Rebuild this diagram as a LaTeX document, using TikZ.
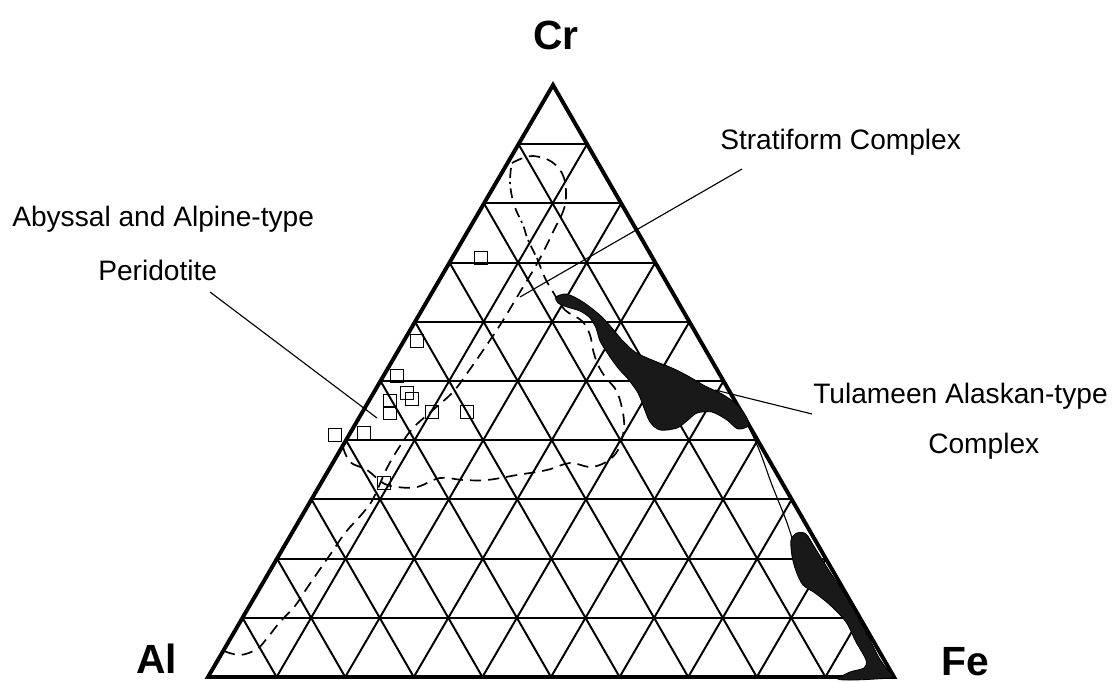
\documentclass[tikz,border=0pt]{standalone}
\usepackage{fontspec}
\setmainfont{Liberation Sans}
\usetikzlibrary{calc}

\tikzset{
  trioutline/.style={line width=2.8pt, line join=miter},
  gridline/.style={line width=1.4pt},
  fieldline/.style={line width=1.2pt, dash pattern=on 8pt off 5pt},
  fielddot/.style={line width=1.2pt, dash pattern=on 7pt off 3pt on 1.5pt off 3pt},
  leader/.style={line width=0.8pt},
  corner/.style={font=\fontsize{29}{34}\selectfont\bfseries, inner sep=0pt},
  fieldlabel/.style={font=\fontsize{20}{24}\selectfont, inner sep=0pt, anchor=base west},
  sample/.style={draw, line width=1pt, minimum size=0.32cm, inner sep=0pt},
  tulameen/.style={fill=black!90, draw=black, line width=0.6pt}
}

\begin{document}
\begin{tikzpicture}[x=0.025cm,y=-0.025cm]
%%%%% START %%%%%
\useasboundingbox (0,0) rectangle (1117,682);

\coordinate (Al) at (208,677);
\coordinate (Fe) at (894,677);
\coordinate (Cr) at (553,85);

% ternary grid, steps of 10
\foreach \i in {1,...,9} {
  \draw[gridline] ($(Al)!\i/10!(Cr)$) -- ($(Fe)!\i/10!(Cr)$);
  \draw[gridline] ($(Al)!\i/10!(Fe)$) -- ($(Al)!\i/10!(Cr)$);
  \draw[gridline] ($(Fe)!\i/10!(Al)$) -- ($(Fe)!\i/10!(Cr)$);
}
\draw[trioutline] (Al) -- (Fe) -- (Cr) -- cycle;

% abyssal and alpine-type field
\draw[fieldline] plot[smooth, tension=0.6] coordinates {(224,651) (240,655) (257,649) (268,637) (280,622) (295,606) (305,591) (318,572) (332,552) (345,533) (362,514) (373,499) (387,468) (400,446) (413,428) (433,410) (453,392) (468,372) (484,349) (502,322) (520,292) (538,262) (553,232) (565,205) (564,178) (552,162) (533,156) (518,160) (509,165)};

% stratiform field
\draw[fielddot] plot[smooth, tension=0.6] coordinates {(511,168) (510,182) (512,197) (516,210) (523,225) (528,240) (537,258)};
\draw[fieldline] plot[smooth, tension=0.6] coordinates {(537,258) (545,278) (553,292) (565,310) (582,321) (590,335) (593,350) (598,365) (606,378) (616,390) (622,408) (624,428) (618,450) (606,462) (590,467) (570,463) (547,470) (517,475) (487,480) (463,480) (440,478) (417,487) (397,487) (383,483) (367,470) (350,462) (343,447)};

% tulameen field
\filldraw[tulameen] plot[smooth cycle, tension=0.5] coordinates {(556,297) (566,294) (578,299) (590,307) (602,317) (612,328) (622,340) (635,352) (652,360) (672,368) (688,376) (705,386) (722,394) (735,403) (744,413) (749,425) (738,429) (727,420) (712,412) (697,413) (688,420) (677,428) (660,430) (650,422) (644,408) (638,393) (628,379) (618,368) (608,354) (600,341) (596,328) (590,318) (580,311) (567,307) (558,303)};
\draw[leader] plot[smooth] coordinates {(748,425) (760,452) (772,485) (786,520) (792,538)};
\filldraw[tulameen] plot[smooth cycle, tension=0.5] coordinates {(791,540) (797,533) (806,534) (815,548) (830,572) (845,595) (858,617) (869,638) (878,656) (886,668) (893,677) (875,679) (852,680) (838,679) (850,672) (864,668) (866,660) (856,642) (846,622) (830,605) (815,593) (803,585) (796,571) (792,556)};

% samples
\foreach \x/\y [count=\k] in {481/258, 417/341, 397/376, 407/393, 412/399, 390/401, 390/413, 432/412, 467/412, 364/433, 335/435, 384/483}
  \node[sample] (s\k) at (\x,\y) {};

% labels
\node[corner, anchor=base] (crlab) at (556,50) {Cr};
\node[corner, anchor=base west] (allab) at (136,673) {Al};
\node[corner, anchor=base west] (felab) at (941,675) {Fe};

\node[fieldlabel] (strat) at (720,150) {Stratiform Complex};
\node[fieldlabel] (abyss) at (12,227) {Abyssal and Alpine-type};
\node[fieldlabel] (perid) at (98,280) {Peridotite};
\node[fieldlabel] (tula) at (813,403) {Tulameen Alaskan-type};
\node[fieldlabel] (tulb) at (928,453) {Complex};

% leaders
\coordinate (strat-a) at (742,169);
\coordinate (strat-b) at (520,297);
\coordinate (perid-a) at (210,292);
\coordinate (perid-b) at (377,418);
\coordinate (tula-a) at (812,414);
\coordinate (tula-b) at (715,390);
\draw[leader] (strat-a) -- (strat-b);
\draw[leader] (perid-a) -- (perid-b);
\draw[leader] (tula-a) -- (tula-b);
%%%%% END %%%%%
\end{tikzpicture}
\end{document}
